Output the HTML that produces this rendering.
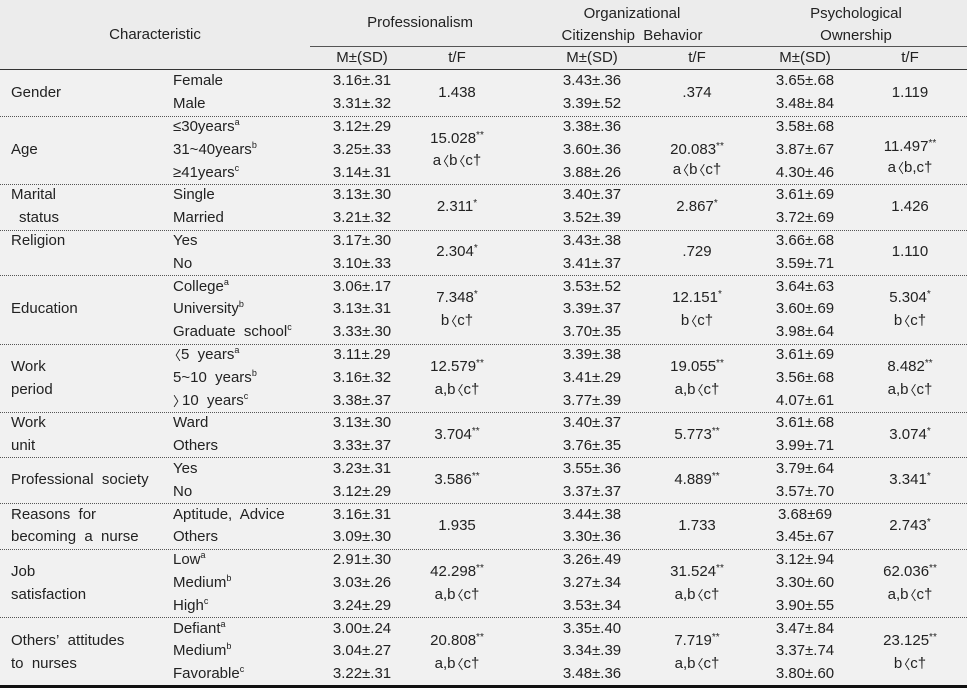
<!DOCTYPE html>
<html><head><meta charset="utf-8"><style>
body{margin:0;width:967px;height:688px;background:#fff;overflow:hidden}
#t{position:relative;width:967px;height:688px;background:#f1f1f1;font-family:"Liberation Sans","Noto Sans CJK KR",sans-serif;font-size:15px;color:#222}
#t div{position:absolute;white-space:nowrap;line-height:22px;height:22px}
.c{text-align:center;transform:translateX(-50%)}
sup{font-size:9px;vertical-align:6px;line-height:0}
.s{font-size:10px;vertical-align:5px;line-height:0}
#t .d{height:0;left:0;width:967px;border-top:1px dotted #555}
.b{font-family:"Noto Sans CJK KR",sans-serif;font-size:13px;display:inline-block;width:8px;overflow:hidden;vertical-align:top;line-height:22px}
.b i{font-style:normal;display:inline-block;margin-left:-5px}
.e{font-family:"Noto Sans CJK KR",sans-serif;font-size:13px;display:inline-block;width:9px;overflow:hidden;vertical-align:top;line-height:22px}
</style></head><body><div id="t">
<div style="top:0;left:0;width:967px;height:3px;background:#111"></div>
<div style="top:685px;left:0;width:967px;height:3px;background:#111"></div>
<div style="top:0;left:0;width:967px;height:69px;background:#ececec"></div>
<div style="top:46px;left:310px;width:657px;height:1px;background:#555"></div>
<div style="top:69px;left:0;width:967px;height:1px;background:#333"></div>
<div class="c" style="left:155px;top:24px">Characteristic</div>
<div class="c" style="left:420px;top:12px">Professionalism</div>
<div class="c" style="left:632px;top:3px">Organizational</div>
<div class="c" style="left:632px;top:25px">Citizenship&nbsp; Behavior</div>
<div class="c" style="left:856px;top:3px">Psychological</div>
<div class="c" style="left:856px;top:25px">Ownership</div>
<div class="c" style="left:362px;top:47px">M±(SD)</div>
<div class="c" style="left:457px;top:47px">t/F</div>
<div class="c" style="left:592px;top:47px">M±(SD)</div>
<div class="c" style="left:697px;top:47px">t/F</div>
<div class="c" style="left:805px;top:47px">M±(SD)</div>
<div class="c" style="left:910px;top:47px">t/F</div>

<div class="d" style="top:116px"></div><div class="d" style="top:184px"></div><div class="d" style="top:230px"></div><div class="d" style="top:275px"></div><div class="d" style="top:344px"></div><div class="d" style="top:412px"></div><div class="d" style="top:457px"></div><div class="d" style="top:503px"></div><div class="d" style="top:549px"></div><div class="d" style="top:617px"></div>

<div style="left:11px;top:82px">Gender</div>
<div style="left:11px;top:139px">Age</div>
<div style="left:11px;top:184px">Marital</div>
<div style="left:19px;top:207px">status</div>
<div style="left:11px;top:230px">Religion</div>
<div style="left:11px;top:298px">Education</div>
<div style="left:11px;top:356px">Work</div>
<div style="left:11px;top:379px">period</div>
<div style="left:11px;top:412px">Work</div>
<div style="left:11px;top:435px">unit</div>
<div style="left:11px;top:469px">Professional&nbsp; society</div>
<div style="left:11px;top:504px">Reasons&nbsp; for</div>
<div style="left:11px;top:526px">becoming&nbsp; a&nbsp; nurse</div>
<div style="left:11px;top:561px">Job</div>
<div style="left:11px;top:584px">satisfaction</div>
<div style="left:11px;top:630px">Others’&nbsp; attitudes</div>
<div style="left:11px;top:653px">to&nbsp; nurses</div>

<div style="left:173px;top:70px">Female</div>
<div style="left:173px;top:93px">Male</div>
<div style="left:173px;top:116px">≤30years<sup>a</sup></div>
<div style="left:173px;top:139px">31~40years<sup>b</sup></div>
<div style="left:173px;top:162px">≥41years<sup>c</sup></div>
<div style="left:173px;top:184px">Single</div>
<div style="left:173px;top:207px">Married</div>
<div style="left:173px;top:230px">Yes</div>
<div style="left:173px;top:253px">No</div>
<div style="left:173px;top:276px">College<sup>a</sup></div>
<div style="left:173px;top:298px">University<sup>b</sup></div>
<div style="left:173px;top:321px">Graduate&nbsp; school<sup>c</sup></div>
<div style="left:173px;top:344px"><span class="b"><i>〈</i></span>5&nbsp; years<sup>a</sup></div>
<div style="left:173px;top:367px">5~10&nbsp; years<sup>b</sup></div>
<div style="left:173px;top:390px"><span class="e">〉</span>10&nbsp; years<sup>c</sup></div>
<div style="left:173px;top:412px">Ward</div>
<div style="left:173px;top:435px">Others</div>
<div style="left:173px;top:458px">Yes</div>
<div style="left:173px;top:481px">No</div>
<div style="left:173px;top:504px">Aptitude,&nbsp; Advice</div>
<div style="left:173px;top:526px">Others</div>
<div style="left:173px;top:549px">Low<sup>a</sup></div>
<div style="left:173px;top:572px">Medium<sup>b</sup></div>
<div style="left:173px;top:595px">High<sup>c</sup></div>
<div style="left:173px;top:618px">Defiant<sup>a</sup></div>
<div style="left:173px;top:640px">Medium<sup>b</sup></div>
<div style="left:173px;top:663px">Favorable<sup>c</sup></div>

<div class="c" style="left:362px;top:70px">3.16±.31</div>
<div class="c" style="left:362px;top:93px">3.31±.32</div>
<div class="c" style="left:362px;top:116px">3.12±.29</div>
<div class="c" style="left:362px;top:139px">3.25±.33</div>
<div class="c" style="left:362px;top:162px">3.14±.31</div>
<div class="c" style="left:362px;top:184px">3.13±.30</div>
<div class="c" style="left:362px;top:207px">3.21±.32</div>
<div class="c" style="left:362px;top:230px">3.17±.30</div>
<div class="c" style="left:362px;top:253px">3.10±.33</div>
<div class="c" style="left:362px;top:276px">3.06±.17</div>
<div class="c" style="left:362px;top:298px">3.13±.31</div>
<div class="c" style="left:362px;top:321px">3.33±.30</div>
<div class="c" style="left:362px;top:344px">3.11±.29</div>
<div class="c" style="left:362px;top:367px">3.16±.32</div>
<div class="c" style="left:362px;top:390px">3.38±.37</div>
<div class="c" style="left:362px;top:412px">3.13±.30</div>
<div class="c" style="left:362px;top:435px">3.33±.37</div>
<div class="c" style="left:362px;top:458px">3.23±.31</div>
<div class="c" style="left:362px;top:481px">3.12±.29</div>
<div class="c" style="left:362px;top:504px">3.16±.31</div>
<div class="c" style="left:362px;top:526px">3.09±.30</div>
<div class="c" style="left:362px;top:549px">2.91±.30</div>
<div class="c" style="left:362px;top:572px">3.03±.26</div>
<div class="c" style="left:362px;top:595px">3.24±.29</div>
<div class="c" style="left:362px;top:618px">3.00±.24</div>
<div class="c" style="left:362px;top:640px">3.04±.27</div>
<div class="c" style="left:362px;top:663px">3.22±.31</div>

<div class="c" style="left:457px;top:82px">1.438</div>
<div class="c" style="left:457px;top:128px">15.028<span class="s">**</span></div>
<div class="c" style="left:457px;top:150px">a<span class="b"><i>〈</i></span>b<span class="b"><i>〈</i></span>c†</div>
<div class="c" style="left:457px;top:196px">2.311<span class="s">*</span></div>
<div class="c" style="left:457px;top:241px">2.304<span class="s">*</span></div>
<div class="c" style="left:457px;top:287px">7.348<span class="s">*</span></div>
<div class="c" style="left:457px;top:310px">b<span class="b"><i>〈</i></span>c†</div>
<div class="c" style="left:457px;top:356px">12.579<span class="s">**</span></div>
<div class="c" style="left:457px;top:379px">a,b<span class="b"><i>〈</i></span>c†</div>
<div class="c" style="left:457px;top:424px">3.704<span class="s">**</span></div>
<div class="c" style="left:457px;top:469px">3.586<span class="s">**</span></div>
<div class="c" style="left:457px;top:515px">1.935</div>
<div class="c" style="left:457px;top:561px">42.298<span class="s">**</span></div>
<div class="c" style="left:457px;top:584px">a,b<span class="b"><i>〈</i></span>c†</div>
<div class="c" style="left:457px;top:630px">20.808<span class="s">**</span></div>
<div class="c" style="left:457px;top:653px">a,b<span class="b"><i>〈</i></span>c†</div>

<div class="c" style="left:592px;top:70px">3.43±.36</div>
<div class="c" style="left:592px;top:93px">3.39±.52</div>
<div class="c" style="left:592px;top:116px">3.38±.36</div>
<div class="c" style="left:592px;top:139px">3.60±.36</div>
<div class="c" style="left:592px;top:162px">3.88±.26</div>
<div class="c" style="left:592px;top:184px">3.40±.37</div>
<div class="c" style="left:592px;top:207px">3.52±.39</div>
<div class="c" style="left:592px;top:230px">3.43±.38</div>
<div class="c" style="left:592px;top:253px">3.41±.37</div>
<div class="c" style="left:592px;top:276px">3.53±.52</div>
<div class="c" style="left:592px;top:298px">3.39±.37</div>
<div class="c" style="left:592px;top:321px">3.70±.35</div>
<div class="c" style="left:592px;top:344px">3.39±.38</div>
<div class="c" style="left:592px;top:367px">3.41±.29</div>
<div class="c" style="left:592px;top:390px">3.77±.39</div>
<div class="c" style="left:592px;top:412px">3.40±.37</div>
<div class="c" style="left:592px;top:435px">3.76±.35</div>
<div class="c" style="left:592px;top:458px">3.55±.36</div>
<div class="c" style="left:592px;top:481px">3.37±.37</div>
<div class="c" style="left:592px;top:504px">3.44±.38</div>
<div class="c" style="left:592px;top:526px">3.30±.36</div>
<div class="c" style="left:592px;top:549px">3.26±.49</div>
<div class="c" style="left:592px;top:572px">3.27±.34</div>
<div class="c" style="left:592px;top:595px">3.53±.34</div>
<div class="c" style="left:592px;top:618px">3.35±.40</div>
<div class="c" style="left:592px;top:640px">3.34±.39</div>
<div class="c" style="left:592px;top:663px">3.48±.36</div>

<div class="c" style="left:697px;top:82px">.374</div>
<div class="c" style="left:697px;top:139px">20.083<span class="s">**</span></div>
<div class="c" style="left:697px;top:159px">a<span class="b"><i>〈</i></span>b<span class="b"><i>〈</i></span>c†</div>
<div class="c" style="left:697px;top:196px">2.867<span class="s">*</span></div>
<div class="c" style="left:697px;top:241px">.729</div>
<div class="c" style="left:697px;top:287px">12.151<span class="s">*</span></div>
<div class="c" style="left:697px;top:310px">b<span class="b"><i>〈</i></span>c†</div>
<div class="c" style="left:697px;top:356px">19.055<span class="s">**</span></div>
<div class="c" style="left:697px;top:379px">a,b<span class="b"><i>〈</i></span>c†</div>
<div class="c" style="left:697px;top:424px">5.773<span class="s">**</span></div>
<div class="c" style="left:697px;top:469px">4.889<span class="s">**</span></div>
<div class="c" style="left:697px;top:515px">1.733</div>
<div class="c" style="left:697px;top:561px">31.524<span class="s">**</span></div>
<div class="c" style="left:697px;top:584px">a,b<span class="b"><i>〈</i></span>c†</div>
<div class="c" style="left:697px;top:630px">7.719<span class="s">**</span></div>
<div class="c" style="left:697px;top:653px">a,b<span class="b"><i>〈</i></span>c†</div>

<div class="c" style="left:805px;top:70px">3.65±.68</div>
<div class="c" style="left:805px;top:93px">3.48±.84</div>
<div class="c" style="left:805px;top:116px">3.58±.68</div>
<div class="c" style="left:805px;top:139px">3.87±.67</div>
<div class="c" style="left:805px;top:162px">4.30±.46</div>
<div class="c" style="left:805px;top:184px">3.61±.69</div>
<div class="c" style="left:805px;top:207px">3.72±.69</div>
<div class="c" style="left:805px;top:230px">3.66±.68</div>
<div class="c" style="left:805px;top:253px">3.59±.71</div>
<div class="c" style="left:805px;top:276px">3.64±.63</div>
<div class="c" style="left:805px;top:298px">3.60±.69</div>
<div class="c" style="left:805px;top:321px">3.98±.64</div>
<div class="c" style="left:805px;top:344px">3.61±.69</div>
<div class="c" style="left:805px;top:367px">3.56±.68</div>
<div class="c" style="left:805px;top:390px">4.07±.61</div>
<div class="c" style="left:805px;top:412px">3.61±.68</div>
<div class="c" style="left:805px;top:435px">3.99±.71</div>
<div class="c" style="left:805px;top:458px">3.79±.64</div>
<div class="c" style="left:805px;top:481px">3.57±.70</div>
<div class="c" style="left:805px;top:504px">3.68±69</div>
<div class="c" style="left:805px;top:526px">3.45±.67</div>
<div class="c" style="left:805px;top:549px">3.12±.94</div>
<div class="c" style="left:805px;top:572px">3.30±.60</div>
<div class="c" style="left:805px;top:595px">3.90±.55</div>
<div class="c" style="left:805px;top:618px">3.47±.84</div>
<div class="c" style="left:805px;top:640px">3.37±.74</div>
<div class="c" style="left:805px;top:663px">3.80±.60</div>

<div class="c" style="left:910px;top:82px">1.119</div>
<div class="c" style="left:910px;top:136px">11.497<span class="s">**</span></div>
<div class="c" style="left:910px;top:157px">a<span class="b"><i>〈</i></span>b,c†</div>
<div class="c" style="left:910px;top:196px">1.426</div>
<div class="c" style="left:910px;top:241px">1.110</div>
<div class="c" style="left:910px;top:287px">5.304<span class="s">*</span></div>
<div class="c" style="left:910px;top:310px">b<span class="b"><i>〈</i></span>c†</div>
<div class="c" style="left:910px;top:356px">8.482<span class="s">**</span></div>
<div class="c" style="left:910px;top:379px">a,b<span class="b"><i>〈</i></span>c†</div>
<div class="c" style="left:910px;top:424px">3.074<span class="s">*</span></div>
<div class="c" style="left:910px;top:469px">3.341<span class="s">*</span></div>
<div class="c" style="left:910px;top:515px">2.743<span class="s">*</span></div>
<div class="c" style="left:910px;top:561px">62.036<span class="s">**</span></div>
<div class="c" style="left:910px;top:584px">a,b<span class="b"><i>〈</i></span>c†</div>
<div class="c" style="left:910px;top:630px">23.125<span class="s">**</span></div>
<div class="c" style="left:910px;top:653px">b<span class="b"><i>〈</i></span>c†</div>
</div></body></html>
